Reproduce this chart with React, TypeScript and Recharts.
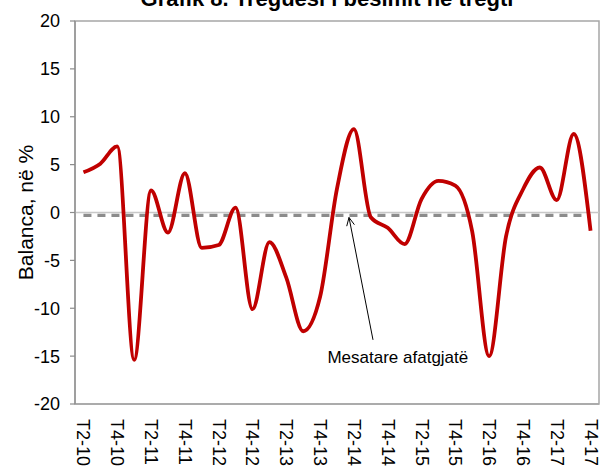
import React from "react";
import {
  LineChart,
  Line,
  XAxis,
  YAxis,
  ReferenceLine,
  ReferenceArea,
  ReferenceDot
} from "recharts";

const quarters = [
  "T2-10", "T3-10", "T4-10",
  "T1-11", "T2-11", "T3-11", "T4-11",
  "T1-12", "T2-12", "T3-12", "T4-12",
  "T1-13", "T2-13", "T3-13", "T4-13",
  "T1-14", "T2-14", "T3-14", "T4-14",
  "T1-15", "T2-15", "T3-15", "T4-15",
  "T1-16", "T2-16", "T3-16", "T4-16",
  "T1-17", "T2-17", "T3-17", "T4-17"
];

// balanca e treguesit, ne %
const balance = [
  4.2, 5.1, 6.9,
  -15.4, 2.3, -2.1, 4.1,
  -3.7, -3.4, 0.5, -10.1,
  -3.1, -6.8, -12.4, -8.8,
  2.5, 8.7, -0.5, -1.6,
  -3.3, 1.4, 3.3, 2.8,
  -2.0, -15.0, -2.5, 2.4,
  4.7, 1.3, 8.2, -1.9
];

const longTermAvg = -0.3;
const yTicks = [-20, -15, -10, -5, 0, 5, 10, 15, 20];
const xTicks = [0, 2, 4, 6, 8, 10, 12, 14, 16, 18, 20, 22, 24, 26, 28, 30];

// annotation: arrow from label to the average line
const arrowTail = { x: 17.13, y: -13.3 };
const arrowHead = { x: 15.71, y: -0.52 };
const noteAt = { x: 18.6, y: -15.05 };
const noteText = "Mesatare afatgjatë";

const FONT = "'Liberation Sans', Arial, sans-serif";

const rows = quarters.map((q, i) => ({ idx: i, q, balance: balance[i] }));

function QuarterTick(props: any) {
  const { x, y, payload } = props;
  return (
    <text
      transform={`translate(${x},${y}) rotate(90)`}
      textAnchor="start"
      dominantBaseline="central"
      fontFamily={FONT}
      fontSize={18}
      fill="#000"
    >
      {quarters[payload.value]}
    </text>
  );
}

function Arrow(props: any) {
  const { x1, y1, x2, y2 } = props;
  const ang = Math.atan2(y2 - y1, x2 - x1);
  const len = 9;
  const spread = 0.45;
  const a1x = x2 - len * Math.cos(ang - spread);
  const a1y = y2 - len * Math.sin(ang - spread);
  const a2x = x2 - len * Math.cos(ang + spread);
  const a2y = y2 - len * Math.sin(ang + spread);
  return (
    <g>
      <line x1={x1} y1={y1} x2={x2} y2={y2} stroke="#000" strokeWidth={1} />
      <polyline
        points={`${a1x},${a1y} ${x2},${y2} ${a2x},${a2y}`}
        fill="none"
        stroke="#000"
        strokeWidth={1}
      />
    </g>
  );
}

function YLabel(props: any) {
  const { viewBox } = props;
  const cx = viewBox.x + 25;
  const cy = viewBox.y + viewBox.height / 2;
  return (
    <text
      transform={`translate(${cx},${cy}) rotate(-90)`}
      textAnchor="middle"
      dominantBaseline="central"
      fontFamily={FONT}
      fontSize={21}
      fill="#000"
    >
      Balanca, në %
    </text>
  );
}

export default function App() {
  return (
    <div style={{ position: "absolute", left: 0, top: 0, width: 605, height: 470, background: "#fff" }}>
      <LineChart
        width={605}
        height={470}
        data={rows}
        margin={{ top: 21, right: 6, left: 0, bottom: 0 }}
      >
        <XAxis
          dataKey="idx"
          type="number"
          domain={[-0.5, 30.5]}
          ticks={xTicks}
          interval={0}
          height={66}
          tickLine={false}
          tickSize={0}
          tickMargin={15}
          axisLine={{ stroke: "#a6a6a6", strokeWidth: 1.5 }}
          tick={<QuarterTick />}
        />
        <YAxis
          type="number"
          domain={[-20, 20]}
          ticks={yTicks}
          interval={0}
          width={75}
          tickSize={5}
          tickMargin={10}
          axisLine={{ stroke: "#8c8c8c", strokeWidth: 1.2 }}
          tickLine={{ stroke: "#8c8c8c", strokeWidth: 1.2 }}
          tick={{ fill: "#000", fontSize: 18, fontFamily: FONT }}
          label={<YLabel />}
        />
        <ReferenceArea y1={-20} y2={20} fill="none" stroke="#a6a6a6" strokeWidth={1.5} />
        <ReferenceLine y={0} stroke="#c8c8c8" strokeWidth={1.5} />
        <ReferenceLine
          segment={[
            { x: 0, y: longTermAvg },
            { x: 30, y: longTermAvg }
          ]}
          stroke="#8c8c8c"
          strokeWidth={3.2}
          strokeDasharray="8 6"
        />
        <Line
          type="monotone"
          dataKey="balance"
          stroke="#c00000"
          strokeWidth={3.8}
          dot={false}
          activeDot={false}
          isAnimationActive={false}
        />
        <ReferenceLine segment={[arrowTail, arrowHead]} shape={<Arrow />} />
        <ReferenceDot
          x={noteAt.x}
          y={noteAt.y}
          r={0}
          fill="none"
          stroke="none"
          label={{ value: noteText, position: "center", fill: "#000", fontSize: 17, fontFamily: FONT }}
        />
      </LineChart>
      <svg
        width={605}
        height={30}
        style={{ position: "absolute", left: 0, top: 0, pointerEvents: "none" }}
      >
        <text
          x={327}
          y={6}
          textAnchor="middle"
          fontFamily={FONT}
          fontWeight="bold"
          fontSize={22}
          fill="#000"
        >
          Grafik 8. Treguesi i besimit në tregti
        </text>
      </svg>
    </div>
  );
}
